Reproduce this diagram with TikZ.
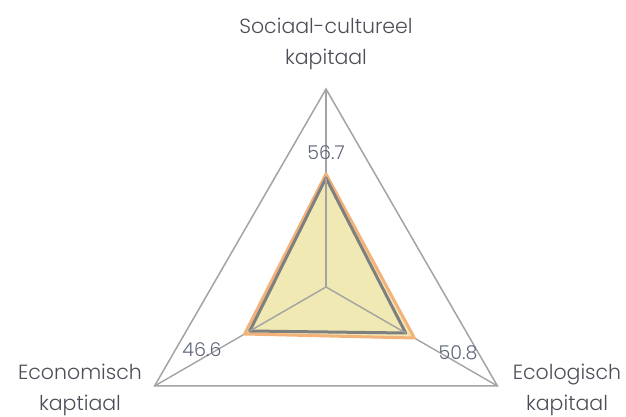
\documentclass[tikz,border=0pt]{standalone}
\usepackage{fontspec}
\setmainfont{Poppins}[UprightFont=* Light]
\usepackage{xcolor}
\usepackage{tikz}
\usetikzlibrary{shapes}
\usetikzlibrary{calc}

\definecolor{rasterGrey}{HTML}{A3A3A3}
\definecolor{seriesGrey}{HTML}{7F7F7F}
\definecolor{seriesOrange}{HTML}{F2B27A}
\definecolor{seriesFill}{HTML}{F0E7AC}
\definecolor{labelGrey}{HTML}{4E4E58}
\definecolor{valueGrey}{HTML}{606678}

\tikzset{
    axislabel/.style = {text = labelGrey, font = \fontsize{20.5}{31}\selectfont, align = center, inner sep = 0pt},
    valuelabel/.style = {text = valueGrey, font = \fontsize{19}{20}\selectfont, inner sep = 0pt}
}

\begin{document}
\begin{tikzpicture}[x = 1pt, y = 1pt]
        \useasboundingbox (0, 0) rectangle (626, 417);

        \coordinate (centre) at (326, 130);
        \coordinate (socTop) at ($(centre) + (90:198)$);
        \coordinate (ecoLeft) at ($(centre) + (210:198)$);
        \coordinate (ecolRight) at ($(centre) + (330:198)$);

                \draw[rasterGrey, line width = 1.5pt] (socTop) -- (ecoLeft) -- (ecolRight) -- cycle;
                \draw[rasterGrey, line width = 1.4pt] (centre) -- (socTop);
                \draw[rasterGrey, line width = 1.4pt] (centre) -- (ecoLeft);
                \draw[rasterGrey, line width = 1.4pt] (centre) -- (ecolRight);

        % orange serie
        \coordinate (socVal) at ($(centre) + (90:113)$);
        \coordinate (ecoVal) at ($(centre) + (210:94)$);
        \coordinate (ecolVal) at ($(centre) + (330:102)$);
        \filldraw[fill = seriesFill, fill opacity = 0.9, draw = seriesOrange, line width = 3pt, line join = round]
            (socVal) -- (ecoVal) -- (ecolVal) -- cycle;

        % grijze serie
        \coordinate (socGrey) at ($(centre) + (90:109)$);
        \coordinate (ecoGrey) at ($(centre) + (210:88)$);
        \coordinate (ecolGrey) at ($(centre) + (330:92)$);
        \draw[seriesGrey, line width = 3pt, line join = round]
            (socGrey) -- (ecoGrey) -- (ecolGrey) -- cycle;

                \draw[rasterGrey, line width = 1.4pt] (centre) -- (socGrey);
                \draw[rasterGrey, line width = 1.4pt] (centre) -- (ecoGrey);
                \draw[rasterGrey, line width = 1.4pt] (centre) -- (ecolGrey);

        \node[valuelabel] (socNum) at (326, 264) {56.7};
        \node[valuelabel] (ecoNum) at (202, 67) {46.6};
        \node[valuelabel] (ecolNum) at (458, 64) {50.8};

        \node[axislabel] (socName) at (326, 373) {Sociaal-cultureel\\kapitaal};
        \node[axislabel] (ecoName) at (80, 27) {Economisch\\kaptiaal};
        \node[axislabel] (ecolName) at (567, 27) {Ecologisch\\kapitaal};
\end{tikzpicture}
\end{document}
